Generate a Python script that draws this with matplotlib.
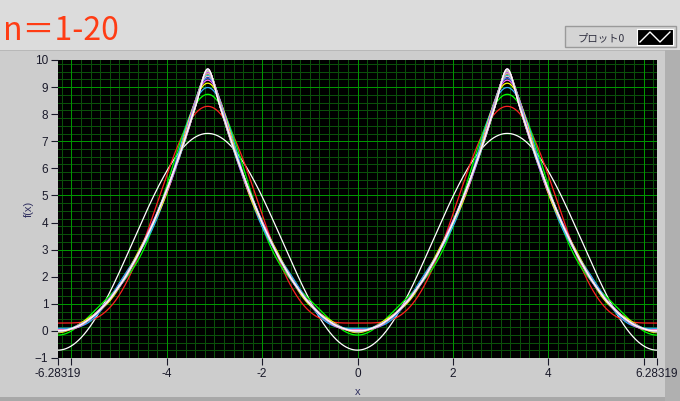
import numpy as np
import matplotlib.pyplot as plt
from matplotlib.patches import Rectangle

# Fourier coefficients (constant term + cos(nx) terms, n=1..20)
a0_half = 3.29
coef = [-4.0, 1.0, -0.444, 0.25, -0.16, 0.111, -0.0816, 0.0625, -0.0494, 0.04,
        -0.0331, 0.0278, -0.0237, 0.0204, -0.0178, 0.0156, -0.0138, 0.0123, -0.0111, 0.01]
plot_colors = ['#ffffff', '#ff2020', '#00ff00', '#30b0ff', '#ffff00', '#ff60ff',
               '#4060ff', '#ffb0d0', '#00ffff', '#ff8040', '#c0ffc0', '#ff00ff',
               '#8080ff', '#ffffa0', '#40ffa0', '#ff4080', '#a0e0ff', '#ffd040',
               '#d080ff', '#ffffff']
xmin, xmax = -6.28319, 6.28319
xticks_major = [-6.28319, -6, -4, -2, 0, 2, 4, 6, 6.28319]
xtick_labels = ['-6.28319', '', '-4', '-2', '0', '2', '4', '', '6.28319']
yticks = list(range(-1, 11))

tick_font = ['Liberation Sans Narrow', 'Liberation Sans', 'DejaVu Sans']

fig = plt.figure(figsize=(6.8, 4.01), dpi=100)
fig.patch.set_facecolor('#dcdcdc')

# graph frame (grey panel with bevel on right / bottom)
def frame_rect(x0, y0, w, h, fc):
    fig.patches.append(Rectangle((x0, y0), w, h, transform=fig.transFigure,
                                 facecolor=fc, edgecolor='none', zorder=-10))

frame_rect(0, 0.01, 0.978, 0.865, '#cdcdcd')
frame_rect(0, 0.872, 0.978, 0.004, '#b8b8b8')
frame_rect(0.978, 0.0, 0.022, 0.876, '#b0b0b0')
frame_rect(0, 0.0, 0.978, 0.01, '#a8a8a8')

ax = fig.add_axes([58 / 680, 43 / 401, 599 / 680, 298 / 401])
ax.set_facecolor('#000000')

x = np.linspace(xmin, xmax, 1200)
y = np.full_like(x, a0_half)
for n, c in enumerate(coef, start=1):
    y = y + c * np.cos(n * x)
    ax.plot(x, y, color=plot_colors[n - 1], lw=0.9, zorder=3)

ax.set_xlim(xmin, xmax)
ax.set_ylim(-1, 10)

# grid: minor dim, major bright
for v in np.arange(-6.2, 6.3, 0.2):
    ax.axvline(v, color='#0a500a', lw=0.72, zorder=1)
for v in np.arange(-6, 7, 2):
    ax.axvline(v, color='#009600', lw=0.72, zorder=2)
for v in np.arange(-1, 10.01, 2 / 7):
    ax.axhline(v, color='#0a500a', lw=0.72, zorder=1)
for v in range(-1, 11, 2):
    ax.axhline(v, color='#009600', lw=0.72, zorder=2)

ax.set_xticks(xticks_major)
ax.set_xticklabels(xtick_labels)
ax.set_yticks(yticks)
ax.tick_params(direction='out', length=5, width=0.8, colors='#1a1a2a',
               labelsize=8.5, pad=2)
for lab in ax.get_xticklabels() + ax.get_yticklabels():
    lab.set_family(tick_font)
for s in ax.spines.values():
    s.set_visible(False)

ax.set_xlabel('x', fontsize=8, color='#303060', family=tick_font, labelpad=5)
ax.set_ylabel('f(x)', fontsize=8, color='#303060', family=tick_font, labelpad=1)

fig.text(3 / 680, 1 - 40 / 401, 'n＝1-20', fontsize=23, color='#ff3c14',
         family=['Noto Sans CJK JP', 'DejaVu Sans'])

# legend box
fig.patches.append(Rectangle((565 / 680, 1 - 47 / 401), 111 / 680, 21 / 401,
                             transform=fig.transFigure, facecolor='#d4d4d4',
                             edgecolor='#9a9a9a', lw=1.0, zorder=-5))
fig.text(578 / 680, 1 - 41 / 401, 'プロット0', fontsize=7.5, color='#303040',
         family=['Noto Sans CJK JP', 'DejaVu Sans'])
lax = fig.add_axes([637 / 680, 1 - 45 / 401, 36 / 680, 16 / 401])
lax.set_facecolor('#000000')
lax.plot([0, 1, 2, 3], [0, 1, 0, 1], color='white', lw=1.0)
lax.set_xlim(-0.3, 3.3)
lax.set_ylim(-0.3, 1.3)
lax.set_xticks([])
lax.set_yticks([])
for s in lax.spines.values():
    s.set_color('#ffffff')
    s.set_linewidth(0.8)

fig.savefig('out.png', dpi=100, facecolor=fig.get_facecolor())
